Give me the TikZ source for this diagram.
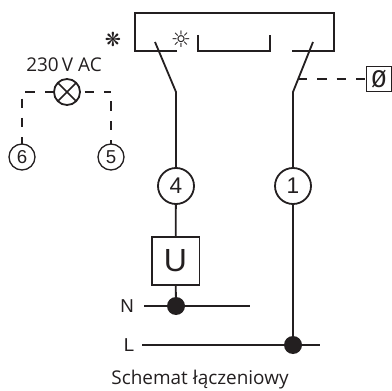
\documentclass[tikz,border=0pt]{standalone}
\usepackage{fontspec}
\setmainfont{Open Sans}
\newfontfamily\arialfont{Liberation Sans}
\newfontfamily\monofont{Liberation Mono}
\newfontfamily\symbfont{DejaVu Sans}
\definecolor{ink}{HTML}{231F20}
\begin{document}
\begin{tikzpicture}[x=0.75pt,y=-0.75pt,line width=1.35pt,color=ink,
      every node/.append style={inner sep=0pt,outer sep=0pt}]
    \tikzstyle{terminal} = [draw,circle,font=\arialfont\fontsize{17}{17}\selectfont,minimum size=27pt]
    \tikzstyle{smallterm} = [draw,circle,line width=1pt,font=\arialfont\fontsize{14}{14}\selectfont,minimum size=19.5pt]
    \tikzstyle{dot} = [fill=ink,circle,minimum size=13.5pt]
    \tikzstyle{word} = [font=\fontsize{14.2}{15}\selectfont]
    \tikzstyle{dashline} = [line width=1pt,dash pattern=on 7pt off 7.5pt]
    \useasboundingbox (0,0) rectangle (392,391);
    % housing
    \coordinate (hL) at (177,51);
    \coordinate (hR) at (292,51);
    \draw (hL) -- (135,51) -- (135,13) -- (334,13) -- (334,51) -- (hR);
    \draw[line width=1pt] (198,35) -- (198,51) -- (270,51) -- (270,35);
    \node (star) at (113,39.5) {\symbfont\fontsize{14.5}{15}\selectfont ❋};
    \node (sun) at (181,39.5) {\symbfont\fontsize{17}{17}\selectfont ☼};
    % terminals
    \node (four) [terminal] at (176,186) {4};
    \node (one) [terminal] at (293,186) {1};
    \node (ubox) [draw,line width=1pt,minimum width=35.5pt,minimum height=36pt,font=\arialfont\fontsize{24}{24}\selectfont] at (175.5,261) {U};
    \node (nDot) [dot] at (176,306) {};
    \node (lDot) [dot] at (293,345) {};
    \coordinate (k4) at (176,92);
    \coordinate (k1) at (293,92);
    \coordinate (t4) at (155,42);
    \coordinate (t1) at (313,42);
    \draw (t4) -- (k4) -- (four);
    \draw (t1) -- (k1) -- (one);
    \draw (four) -- (ubox);
    \draw (ubox) -- (nDot);
    \draw (one) -- (lDot);
    % mains
    \node (N) [font=\arialfont\fontsize{14}{14}\selectfont] at (127,306) {N};
    \node (L) [font=\arialfont\fontsize{14}{14}\selectfont] at (129,345) {L};
    \coordinate (nA) at (144,306);
    \coordinate (nB) at (250,306);
    \coordinate (lA) at (142,345);
    \coordinate (lB) at (320,345);
    \draw[line width=1pt] (nA) -- (nDot) -- (nB);
    \draw[line width=1pt] (lA) -- (lDot) -- (lB);
    % zero box
    \node (zero) [draw,line width=1pt,minimum width=19pt,minimum height=19pt,font=\monofont\fontsize{19}{19}\selectfont] at (379,79) {Ø};
    \coordinate (kz) at (298,79);
    \draw[dashline] (kz) -- (zero);
    % lamp
    \node (lamp) [draw,circle,minimum size=19.5pt] at (67,92) {};
    \draw[line width=1.2pt] (lamp.north west) -- (lamp.south east);
    \draw[line width=1.2pt] (lamp.north east) -- (lamp.south west);
    \node (six) [smallterm] at (22,157) {6};
    \node (five) [smallterm] at (111,157) {5};
    \coordinate (cL) at (22,92);
    \coordinate (cR) at (111,92);
    \draw[dashline] (lamp) -- (cL) -- (six);
    \draw[dashline,dash phase=11pt] (lamp) -- (cR);
    \draw[dashline,dash phase=4pt] (five) -- (cR);
    % labels
    \node (volt) [word] at (64,65) {230\,V AC};
    \node (title) [word] at (200,380) {Schemat łączeniowy};
\end{tikzpicture}
\end{document}
